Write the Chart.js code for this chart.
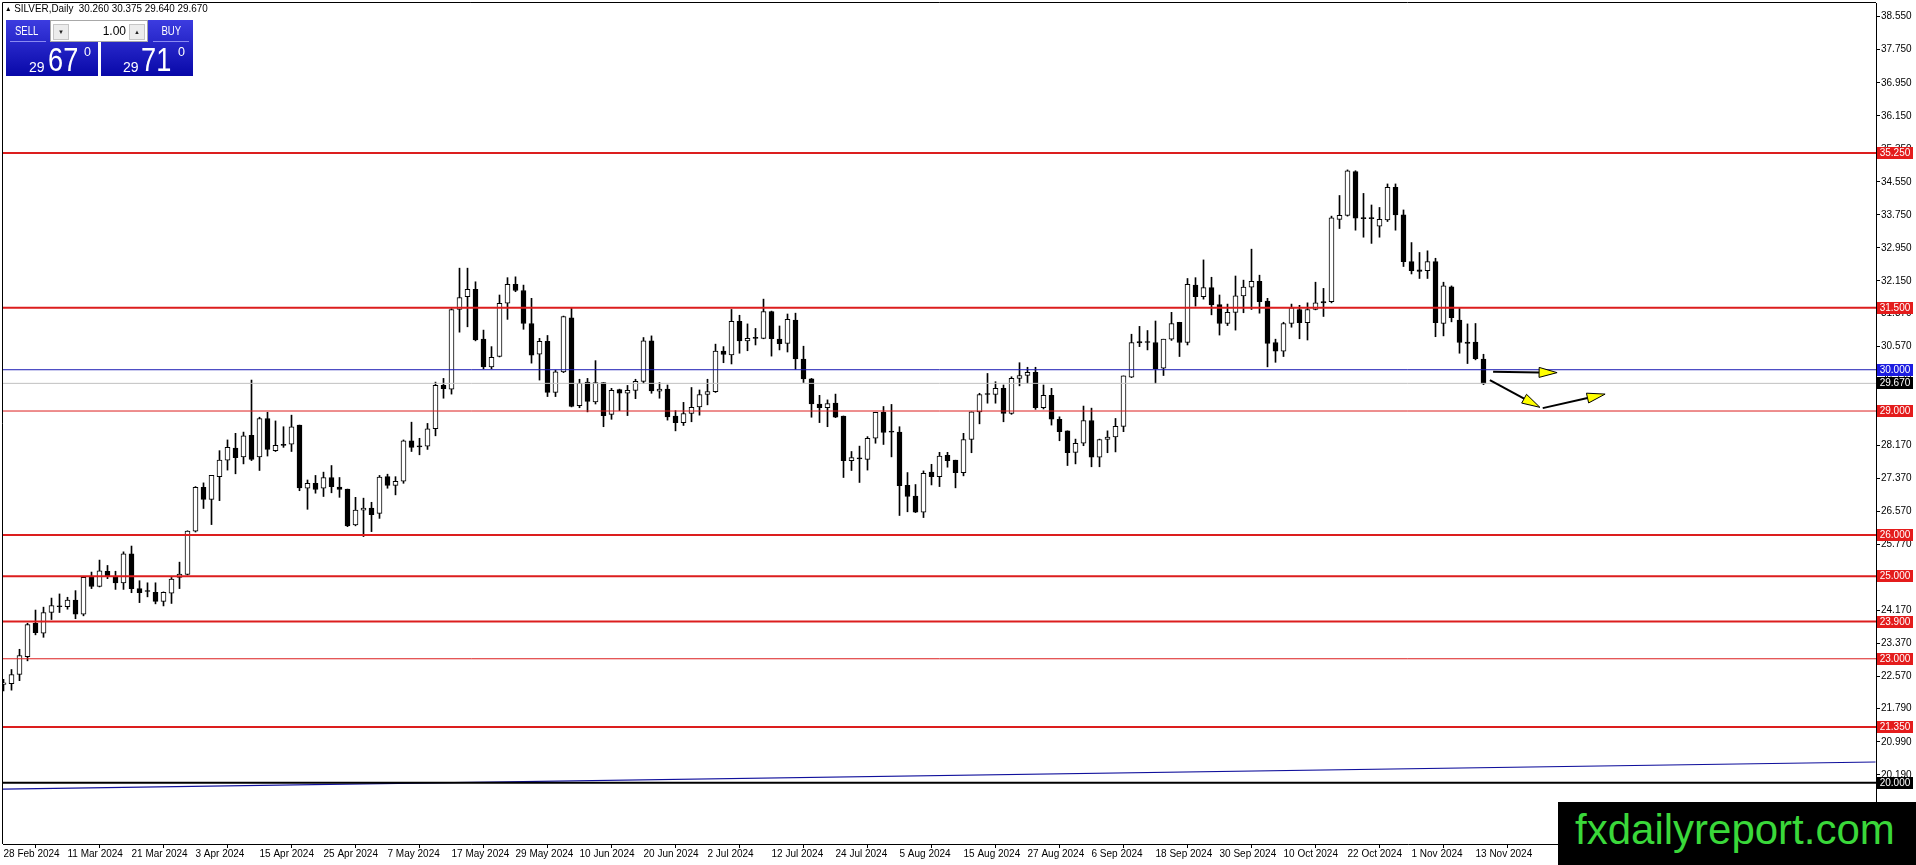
<!DOCTYPE html>
<html>
<head>
<meta charset="utf-8">
<script src="https://cdn.jsdelivr.net/npm/chart.js@4.4.1/dist/chart.umd.min.js"></script>
<style>
  html, body { margin: 0; padding: 0; background: #fff; }
  #wrap { position: relative; width: 1916px; height: 865px; overflow: hidden; font-family: 'Liberation Sans', Arial, sans-serif; }
  #chart { position: absolute; left: 0; top: 0; }
  #symbol { position: absolute; left: 5px; top: 2px; font-size: 10.5px; line-height: 12px; color: #000; white-space: pre; transform: scaleX(0.94); transform-origin: left top; }
  #symbol .tri { font-size: 7px; vertical-align: 1px; }
  .pnl { position: absolute; background: linear-gradient(#3c3ce0, #0808a8); }
  .hdr { position: absolute; height: 22px; line-height: 22px; text-align: center; color: #fff; font-size: 12px; }
  .hdr span { display: inline-block; transform: scaleX(0.8); }
  .sep { position: absolute; height: 1px; background: #8a8af2; }
  .num { position: absolute; color: #fff; white-space: pre; line-height: 1; transform-origin: left top; }
  .big { transform: scaleX(0.8); }
  #spin { position: absolute; left: 50px; top: 20px; width: 98px; height: 22px; background: #fff; border: 1px solid #a8a8a8; box-sizing: border-box; }
  .btn { position: absolute; top: 3px; width: 14px; height: 14px; background: #ececec; border: 1px solid #c6c6c6; font-size: 6px; line-height: 14px; text-align: center; color: #222; }
  #lots { position: absolute; right: 21px; top: 0; line-height: 20px; font-size: 12px; color: #000; }
  #brand { position: absolute; left: 1558px; top: 802px; width: 358px; height: 63px; background: #000; color: #3ad83a; font-size: 42px; line-height: 55px; padding-left: 17px; box-sizing: border-box; white-space: pre; }
</style>
</head>
<body>
<div id="wrap">
  <canvas id="chart" width="1916" height="865"></canvas>

  <div id="symbol"><span class="tri">▲</span> SILVER,Daily  30.260 30.375 29.640 29.670</div>

  <div class="pnl" style="left:6px;top:20px;width:92px;height:56px"></div>
  <div class="pnl" style="left:101px;top:20px;width:92px;height:56px"></div>
  <div class="hdr" style="left:6px;top:20px;width:41px"><span>SELL</span></div>
  <div class="hdr" style="left:149px;top:20px;width:44px"><span>BUY</span></div>
  <div class="sep" style="left:10px;top:41px;width:36px"></div>
  <div class="sep" style="left:153px;top:41px;width:36px"></div>
  <div id="spin">
    <div class="btn" style="left:2px">▼</div>
    <div id="lots">1.00</div>
    <div class="btn" style="right:2px">▲</div>
  </div>
  <span class="num" style="left:29px;top:60px;font-size:14px">29</span>
  <span class="num big" style="left:48px;top:42px;font-size:34px">67</span>
  <span class="num" style="left:84px;top:46px;font-size:12.5px">0</span>
  <span class="num" style="left:123px;top:60px;font-size:14px">29</span>
  <span class="num big" style="left:141px;top:42px;font-size:34px">71</span>
  <span class="num" style="left:178px;top:46px;font-size:12.5px">0</span>

  <div id="brand">fxdailyreport.com</div>
</div>

<script>
// date labels, one every 8 daily bars (bar 0 = 28 Feb 2024)
const dateLabels = ['28 Feb 2024', '11 Mar 2024', '21 Mar 2024', '3 Apr 2024', '15 Apr 2024', '25 Apr 2024',
    '7 May 2024', '17 May 2024', '29 May 2024', '10 Jun 2024', '20 Jun 2024', '2 Jul 2024', '12 Jul 2024',
    '24 Jul 2024', '5 Aug 2024', '15 Aug 2024', '27 Aug 2024', '6 Sep 2024', '18 Sep 2024', '30 Sep 2024',
    '10 Oct 2024', '22 Oct 2024', '1 Nov 2024', '13 Nov 2024'];
const labelStep = 8;

// daily candles
const opens = [22.38, 22.40, 22.62, 23.05, 23.86, 23.62, 24.12, 24.26, 24.26, 24.42,
    24.08, 24.99, 24.75, 25.12, 24.97, 24.84, 25.54, 24.70, 24.64, 24.61,
    24.39, 24.59, 24.97, 25.04, 26.09, 27.15, 26.86, 27.41, 27.81, 28.10,
    27.89, 28.41, 27.89, 28.82, 28.04, 28.17, 28.20, 28.66, 27.13, 27.25,
    27.13, 27.39, 27.16, 27.11, 26.24, 26.60, 26.65, 26.52, 27.41, 27.20,
    27.30, 28.28, 28.13, 28.15, 28.57, 29.62, 29.53, 31.46, 31.77, 31.95,
    30.74, 30.07, 30.32, 31.61, 32.07, 31.92, 31.12, 30.38, 30.69, 29.45,
    29.95, 31.26, 29.13, 29.70, 29.22, 29.69, 28.92, 29.52, 29.43, 29.50,
    29.72, 30.70, 29.48, 29.53, 28.88, 28.72, 28.94, 29.10, 29.40, 29.47,
    30.45, 30.36, 31.17, 30.70, 30.76, 30.76, 31.41, 30.74, 30.64, 31.20,
    30.26, 29.78, 29.17, 29.08, 29.19, 28.88, 27.80, 27.84, 27.83, 28.34,
    28.97, 28.50, 28.49, 27.20, 26.94, 26.55, 27.52, 27.41, 27.93, 27.81,
    27.51, 28.31, 28.98, 29.40, 29.40, 29.55, 28.94, 29.79, 29.86, 29.94,
    29.08, 29.38, 28.80, 28.52, 28.00, 28.22, 28.77, 27.88, 28.31, 28.37,
    28.63, 29.82, 30.68, 30.68, 30.66, 30.04, 30.74, 31.15, 30.66, 32.05,
    31.77, 31.99, 31.58, 31.12, 31.39, 31.79, 32.00, 32.14, 31.66, 30.66,
    30.45, 31.12, 31.46, 31.14, 31.46, 31.62, 31.65, 33.64, 33.74, 34.80,
    33.67, 33.66, 33.48, 33.63, 34.42, 33.75, 32.62, 32.42, 32.40, 32.62,
    31.12, 32.01, 31.20, 30.67, 30.67, 30.26];
const highs = [22.50, 22.74, 23.23, 23.86, 24.18, 24.25, 24.47, 24.57, 24.49, 24.65,
    24.98, 25.10, 25.39, 25.26, 25.12, 25.59, 25.73, 24.89, 24.84, 24.84,
    24.62, 24.97, 25.34, 26.10, 27.17, 27.26, 27.44, 28.04, 28.30, 28.46,
    28.49, 29.75, 28.85, 28.97, 28.76, 28.62, 28.90, 28.66, 27.33, 27.44,
    27.52, 27.68, 27.39, 27.11, 26.91, 26.89, 26.79, 27.44, 27.47, 27.41,
    28.30, 28.73, 28.34, 28.70, 29.70, 29.79, 31.48, 32.46, 32.46, 32.13,
    30.96, 30.56, 31.81, 32.23, 32.25, 32.05, 31.73, 30.76, 30.83, 29.99,
    31.30, 31.51, 29.77, 29.79, 30.22, 29.69, 29.55, 29.53, 29.62, 29.77,
    30.78, 30.82, 29.69, 29.63, 29.01, 29.21, 29.57, 29.51, 29.77, 30.62,
    30.56, 31.46, 31.32, 31.11, 31.00, 31.71, 31.42, 31.06, 31.35, 31.37,
    30.57, 29.79, 29.38, 29.27, 29.41, 28.88, 28.02, 28.15, 28.38, 28.97,
    29.11, 29.16, 28.62, 27.51, 27.22, 27.55, 27.71, 28.00, 28.00, 27.81,
    28.46, 28.98, 29.43, 29.91, 29.71, 29.63, 29.83, 30.17, 30.06, 30.06,
    29.63, 29.55, 28.86, 28.52, 28.32, 29.12, 29.07, 28.32, 28.52, 28.82,
    29.85, 30.86, 31.05, 30.95, 31.18, 30.74, 31.39, 31.15, 32.21, 32.23,
    32.66, 32.24, 31.81, 31.59, 32.27, 32.17, 32.92, 32.29, 31.73, 30.74,
    31.15, 31.59, 31.56, 31.62, 32.12, 31.97, 33.72, 34.22, 34.84, 34.82,
    34.27, 33.99, 33.93, 34.50, 34.50, 33.87, 33.08, 32.84, 32.88, 32.70,
    32.12, 32.03, 31.49, 31.11, 31.12, 30.375];
const lows = [22.22, 22.24, 22.47, 22.95, 23.58, 23.52, 23.95, 24.12, 24.20, 23.97,
    24.04, 24.70, 24.74, 24.94, 24.68, 24.68, 24.60, 24.36, 24.50, 24.33,
    24.28, 24.34, 24.70, 25.03, 26.07, 26.64, 26.25, 26.83, 27.57, 27.48,
    27.72, 27.80, 27.56, 27.91, 28.02, 28.12, 28.02, 27.07, 26.62, 27.01,
    26.93, 27.02, 26.91, 26.20, 26.22, 25.96, 26.08, 26.40, 27.13, 26.97,
    27.25, 28.02, 27.94, 28.07, 28.40, 29.31, 29.41, 30.91, 31.04, 30.70,
    30.02, 30.02, 30.31, 31.22, 31.89, 30.98, 30.16, 29.75, 29.35, 29.35,
    29.93, 29.10, 29.08, 28.98, 29.17, 28.62, 28.80, 29.01, 28.89, 29.30,
    29.67, 29.43, 29.31, 28.78, 28.52, 28.65, 28.74, 28.90, 29.15, 29.45,
    30.17, 30.14, 30.40, 30.46, 30.60, 30.75, 30.33, 30.48, 30.43, 30.01,
    29.69, 28.85, 28.72, 28.62, 28.84, 27.39, 27.56, 27.27, 27.57, 28.22,
    28.19, 27.89, 26.47, 26.56, 26.54, 26.42, 27.21, 27.17, 27.64, 27.14,
    27.43, 27.99, 28.69, 29.19, 29.19, 28.74, 28.92, 29.61, 29.67, 29.04,
    29.05, 28.66, 28.28, 27.68, 27.72, 28.16, 27.65, 27.65, 27.99, 28.01,
    28.50, 29.81, 30.56, 30.48, 29.67, 29.86, 30.71, 30.32, 30.60, 31.54,
    31.71, 31.33, 30.84, 31.07, 30.96, 31.38, 31.46, 31.37, 30.07, 30.18,
    30.32, 31.03, 30.75, 30.72, 31.45, 31.29, 31.62, 33.42, 33.72, 33.38,
    33.21, 33.06, 33.21, 33.59, 33.38, 32.50, 32.32, 32.21, 32.21, 30.80,
    30.82, 31.16, 30.40, 30.15, 30.24, 29.64];
const closes = [22.42, 22.62, 23.08, 23.83, 23.63, 24.12, 24.29, 24.28, 24.42, 24.08,
    24.97, 24.75, 25.13, 25.00, 24.84, 25.54, 24.70, 24.60, 24.63, 24.39,
    24.61, 24.93, 25.05, 26.09, 27.15, 26.86, 27.44, 27.81, 28.12, 27.87,
    28.40, 27.83, 28.82, 28.07, 28.17, 28.18, 28.62, 27.14, 27.25, 27.10,
    27.39, 27.17, 27.10, 26.22, 26.60, 26.65, 26.49, 27.40, 27.20, 27.30,
    28.28, 28.12, 28.14, 28.57, 29.62, 29.54, 31.46, 31.75, 31.95, 30.72,
    30.07, 30.30, 31.61, 32.07, 31.92, 31.12, 30.35, 30.69, 29.45, 29.95,
    31.29, 29.11, 29.67, 29.23, 29.69, 28.89, 29.50, 29.43, 29.50, 29.72,
    30.70, 29.49, 29.53, 28.86, 28.72, 28.94, 29.09, 29.40, 29.47, 30.45,
    30.37, 31.17, 30.70, 30.76, 30.77, 31.41, 30.75, 30.63, 31.22, 30.26,
    29.78, 29.17, 29.08, 29.18, 28.85, 27.80, 27.87, 27.84, 28.34, 28.97,
    28.48, 28.49, 27.19, 26.93, 26.55, 27.49, 27.41, 27.91, 27.80, 27.51,
    28.31, 28.98, 29.40, 29.41, 29.55, 28.94, 29.79, 29.86, 29.94, 29.08,
    29.38, 28.80, 28.50, 27.99, 28.22, 28.77, 27.88, 28.31, 28.37, 28.63,
    29.85, 30.66, 30.65, 30.66, 30.02, 30.74, 31.12, 30.66, 32.07, 31.77,
    31.99, 31.57, 31.12, 31.39, 31.79, 32.00, 32.14, 31.65, 30.64, 30.45,
    31.12, 31.50, 31.14, 31.46, 31.62, 31.65, 33.68, 33.74, 34.82, 33.67,
    33.66, 33.66, 33.64, 34.42, 33.75, 32.62, 32.40, 32.38, 32.62, 31.14,
    32.03, 31.26, 30.66, 30.64, 30.27, 29.67];

// horizontal levels
const thickRedLevels = [35.25, 31.5, 26.0, 25.0, 23.9, 21.35];
const thinRedLevels = [29.0, 23.0];
const blueLevel = 30.0;
const bidLevel = 29.67;
const floorLevel = 20.0;

// long blue line near the bottom (bar index, price)
const trendX = [-0.5, 234];
const trendY = [19.84, 20.50];

// price scale labels on the right
const priceTicks = [38.55, 37.75, 36.95, 36.15, 35.35, 34.55, 33.75, 32.95, 32.15, 31.37, 30.57,
    29.77, 28.97, 28.17, 27.37, 26.57, 25.77, 24.97, 24.17, 23.37, 22.57, 21.79, 20.99, 20.19];

// hand drawn arrows: [bar index, price]
const arrowFrom = [[186.2, 29.95], [185.8, 29.75], [192.4, 29.07]];
const arrowTo = [[194.2, 29.93], [192.05, 29.09], [200.2, 29.41]];

const X_MIN = -0.0625, X_MAX = 234.0625;
const Y_MIN = 18.514, Y_MAX = 38.882;
const FONT = "'Liberation Sans', Arial, sans-serif";

Chart.defaults.font.family = FONT;
Chart.defaults.color = '#000';

const idx = opens.map((_, i) => i);
const wickData = idx.map(i => ({ x: i, y: [lows[i], highs[i]] }));
const bodyData = idx.map(i => ({ x: i, y: [Math.min(opens[i], closes[i]), Math.max(opens[i], closes[i])] }));

function levelLine(v, color, width) {
    return {
        type: 'line',
        data: [{ x: X_MIN, y: v }, { x: X_MAX, y: v }],
        borderColor: color,
        borderWidth: width,
        pointRadius: 0,
        order: 0
    };
}

const datasets = [
    {
        type: 'bar',
        data: wickData,
        backgroundColor: '#000',
        borderWidth: 0,
        barThickness: 1,
        grouped: false,
        order: 3
    },
    {
        type: 'bar',
        data: bodyData,
        backgroundColor: ctx => {
            const i = ctx.dataIndex;
            if (Math.abs(closes[i] - opens[i]) < 0.04) return '#000';
            return closes[i] >= opens[i] ? '#fff' : '#000';
        },
        borderColor: '#000',
        borderWidth: 1,
        borderSkipped: false,
        barThickness: 5,
        minBarLength: 1,
        grouped: false,
        order: 2
    },
    {
        type: 'line',
        data: trendX.map((x, k) => ({ x: x, y: trendY[k] })),
        borderColor: '#10109c',
        borderWidth: 1.2,
        pointRadius: 0,
        order: 1
    },
    levelLine(bidLevel, '#c0c0c0', 1),
    levelLine(blueLevel, '#1a1ab4', 1),
    levelLine(floorLevel, '#000', 2),
    ...thinRedLevels.map(v => levelLine(v, '#dc1e1e', 1)),
    ...thickRedLevels.map(v => levelLine(v, '#dc1e1e', 2))
];

// boxes on the price scale for the levels
const levelBoxes = [
    ...thickRedLevels.map(v => ({ v: v, bg: '#e41c1c' })),
    ...thinRedLevels.map(v => ({ v: v, bg: '#e41c1c' })),
    { v: blueLevel, bg: '#1c1ce0' },
    { v: bidLevel, bg: '#000' },
    { v: floorLevel, bg: '#000' }
];

const framePlugin = {
    id: 'frame',
    afterDraw(chart) {
        const { ctx, chartArea } = chart;
        ctx.save();
        ctx.strokeStyle = '#000';
        ctx.lineWidth = 1;
        ctx.beginPath();
        ctx.moveTo(chartArea.left - 0.5, chartArea.bottom);
        ctx.lineTo(chartArea.left - 0.5, chartArea.top - 0.5);
        ctx.lineTo(chartArea.right, chartArea.top - 0.5);
        ctx.stroke();

        // level value boxes
        const y = chart.scales.y;
        ctx.font = '10px ' + FONT;
        ctx.textAlign = 'center';
        ctx.textBaseline = 'middle';
        levelBoxes.forEach(b => {
            const py = Math.round(y.getPixelForValue(b.v));
            ctx.fillStyle = b.bg;
            ctx.fillRect(chartArea.right + 1, py - 6, 36, 12);
            ctx.fillStyle = '#fff';
            ctx.fillText(b.v.toFixed(3), chartArea.right + 19, py + 0.5);
        });
        ctx.restore();
    }
};

const arrowPlugin = {
    id: 'arrows',
    afterDatasetsDraw(chart) {
        const { ctx } = chart;
        const xs = chart.scales.x, ys = chart.scales.y;
        ctx.save();
        arrowFrom.forEach((a, k) => {
            const x1 = xs.getPixelForValue(a[0]), y1 = ys.getPixelForValue(a[1]);
            const x2 = xs.getPixelForValue(arrowTo[k][0]), y2 = ys.getPixelForValue(arrowTo[k][1]);
            const ang = Math.atan2(y2 - y1, x2 - x1);
            const L = 18, W = 5;
            const bx = x2 - L * Math.cos(ang), by = y2 - L * Math.sin(ang);
            ctx.strokeStyle = '#000';
            ctx.lineWidth = 2;
            ctx.beginPath();
            ctx.moveTo(x1, y1);
            ctx.lineTo(bx, by);
            ctx.stroke();
            ctx.beginPath();
            ctx.moveTo(x2, y2);
            ctx.lineTo(bx + W * Math.sin(ang), by - W * Math.cos(ang));
            ctx.lineTo(bx - W * Math.sin(ang), by + W * Math.cos(ang));
            ctx.closePath();
            ctx.fillStyle = '#ffff00';
            ctx.fill();
            ctx.lineWidth = 1;
            ctx.stroke();
        });
        ctx.restore();
    }
};

new Chart(document.getElementById('chart'), {
    type: 'bar',
    data: { datasets: datasets },
    options: {
        responsive: false,
        animation: false,
        events: [],
        layout: { padding: { left: 3, top: 3, right: 0, bottom: 0 } },
        plugins: { legend: { display: false }, tooltip: { enabled: false } },
        scales: {
            x: {
                type: 'linear',
                min: X_MIN,
                max: X_MAX,
                offset: false,
                bounds: 'data',
                afterBuildTicks: s => { s.ticks = dateLabels.map((_, k) => ({ value: k * labelStep })); },
                afterFit: s => { s.height = 21; s.paddingLeft = 0; s.paddingRight = 0; },
                ticks: {
                    align: 'start',
                    autoSkip: false,
                    maxRotation: 0,
                    padding: 0,
                    font: { size: 10 },
                    color: '#000',
                    callback: (v, i) => dateLabels[i]
                },
                grid: { drawOnChartArea: false, drawTicks: true, tickLength: 4, color: '#000' },
                border: { display: true, color: '#000', width: 1 }
            },
            y: {
                type: 'linear',
                position: 'right',
                min: Y_MIN,
                max: Y_MAX,
                bounds: 'data',
                afterBuildTicks: s => { s.ticks = priceTicks.map(v => ({ value: v })); },
                afterFit: s => { s.width = 40; s.paddingTop = 0; s.paddingBottom = 0; },
                ticks: {
                    autoSkip: false,
                    padding: 1,
                    font: { size: 10 },
                    color: '#000',
                    callback: v => v.toFixed(3)
                },
                grid: { drawOnChartArea: false, drawTicks: true, tickLength: 4, color: '#000' },
                border: { display: true, color: '#000', width: 1 }
            }
        }
    },
    plugins: [framePlugin, arrowPlugin]
});
</script>
</body>
</html>
